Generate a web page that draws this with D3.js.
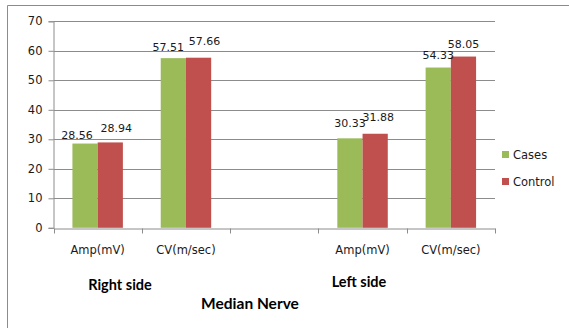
<!DOCTYPE html>
<html><head><meta charset="utf-8">
<script src="https://cdn.jsdelivr.net/npm/d3@7"></script>
<style>
body{margin:0;background:#fff;}
svg{display:block;}
</style></head>
<body>
<svg id="chart" width="569" height="328"></svg>
<script>
// ---- data ----
const categories = ["Amp(mV)", "CV(m/sec)", "", "Amp(mV)", "CV(m/sec)"];
const seriesNames = ["Cases", "Control"];
const cases   = [28.56, 57.51, null, 30.33, 54.33];
const control = [28.94, 57.66, null, 31.88, 58.05];
const yTicks = [0, 10, 20, 30, 40, 50, 60, 70];
const groupLabels = ["Right side", "Left side"];
const title = "Median Nerve";
const colors = ["#9BBB59", "#C0504D"];
// label nudges (manual placement as in source) [dx, dy]
const labelNudge = [
  [[-8, 4], [6, -1]],
  [[-5, 2], [6, -4]],
  [null, null],
  [[0, -2], [3, -4]],
  [[0, 0], [0, 0]]
];

// ---- layout ----
const svg = d3.select("#chart");
const m = {left: 53.5, right: 495, top: 21.3, bottom: 227.8};
const x = d3.scaleBand().domain(d3.range(categories.length)).range([m.left, m.right]).paddingInner(0).paddingOuter(0);
const y = d3.scaleLinear().domain([0, 70]).range([m.bottom, m.top]);
const gridColor = "#8C8C8C";
const font = "'DejaVu Sans', Verdana, sans-serif";

// outer border
svg.append("path").attr("d", "M7.5,328 V5.5 H569").attr("fill", "none").attr("stroke", "#8C8C8C").attr("stroke-width", 1);

// gridlines
svg.append("g").selectAll("line").data(yTicks.filter(d => d > 0)).join("line")
  .attr("x1", m.left).attr("x2", m.right)
  .attr("y1", d => Math.round(y(d)) + 0.5).attr("y2", d => Math.round(y(d)) + 0.5)
  .attr("stroke", gridColor).attr("stroke-width", 1);

// y axis
const yAxis = d3.axisLeft(y).tickValues(yTicks).tickSize(5).tickPadding(6);
const gy = svg.append("g").attr("transform", `translate(${m.left},0)`).call(yAxis);
gy.select(".domain").attr("stroke", gridColor);
gy.selectAll(".tick line").attr("stroke", gridColor);
gy.selectAll(".tick text").attr("font-family", font).attr("font-size", "11.5px").attr("fill", "#1a1a1a");

// bars
const bw = x.bandwidth() / 3.5;
const series = [cases, control];
series.forEach((vals, si) => {
  svg.append("g").selectAll("rect").data(vals.map((v, i) => ({v, i})).filter(d => d.v != null)).join("rect")
    .attr("x", d => x(d.i) + x.bandwidth() / 2 - bw + si * bw)
    .attr("width", bw)
    .attr("y", d => y(d.v))
    .attr("height", d => y(0) - y(d.v))
    .attr("fill", colors[si]);
});

// x axis
const xAxis = d3.axisBottom(x).tickFormat(i => categories[i]).tickSize(0).tickPadding(17);
const gx = svg.append("g").attr("transform", `translate(0,${Math.round(y(0)) + 0.5})`).call(xAxis);
gx.select(".domain").attr("stroke", gridColor);
gx.selectAll(".tick text").attr("font-family", font).attr("font-size", "11.5px").attr("fill", "#1a1a1a");
// boundary tick marks
const bounds = d3.range(categories.length + 1).map(i => i < categories.length ? x(i) : m.right);
gx.selectAll(".btick").data(bounds).join("line").attr("class", "btick")
  .attr("x1", d => Math.round(d) + 0.5).attr("x2", d => Math.round(d) + 0.5)
  .attr("y1", 0).attr("y2", 5).attr("stroke", gridColor);

// value labels
series.forEach((vals, si) => {
  svg.append("g").selectAll("text").data(vals.map((v, i) => ({v, i})).filter(d => d.v != null)).join("text")
    .attr("x", d => x(d.i) + x.bandwidth() / 2 - bw + si * bw + bw / 2 + labelNudge[d.i][si][0])
    .attr("y", d => y(d.v) - 9 + labelNudge[d.i][si][1])
    .attr("text-anchor", "middle")
    .attr("font-family", font).attr("font-size", "11px").attr("fill", "#1a1a1a")
    .text(d => d.v.toFixed(2));
});

// legend
const lg = svg.append("g");
seriesNames.forEach((n, i) => {
  lg.append("rect").attr("x", 502).attr("y", 151 + i * 27).attr("width", 7).attr("height", 7).attr("fill", colors[i]);
  lg.append("text").attr("x", 513).attr("y", 159 + i * 27)
    .attr("font-family", font).attr("font-size", "11.5px").attr("fill", "#1a1a1a").text(n);
});

// group labels & title
const boldFont = "Lato, 'Open Sans', sans-serif";
svg.append("text").attr("x", 120).attr("y", 290).attr("text-anchor", "middle")
  .attr("font-family", boldFont).attr("font-weight", "bold").attr("font-size", "14.5px").attr("fill", "#000").text(groupLabels[0]);
svg.append("text").attr("x", 359).attr("y", 287).attr("text-anchor", "middle")
  .attr("font-family", boldFont).attr("font-weight", "bold").attr("font-size", "14.5px").attr("fill", "#000").text(groupLabels[1]);
svg.append("text").attr("x", 250).attr("y", 308.5).attr("text-anchor", "middle")
  .attr("font-family", boldFont).attr("font-weight", "bold").attr("font-size", "15.5px").attr("fill", "#000").text(title);
</script>
</body></html>
